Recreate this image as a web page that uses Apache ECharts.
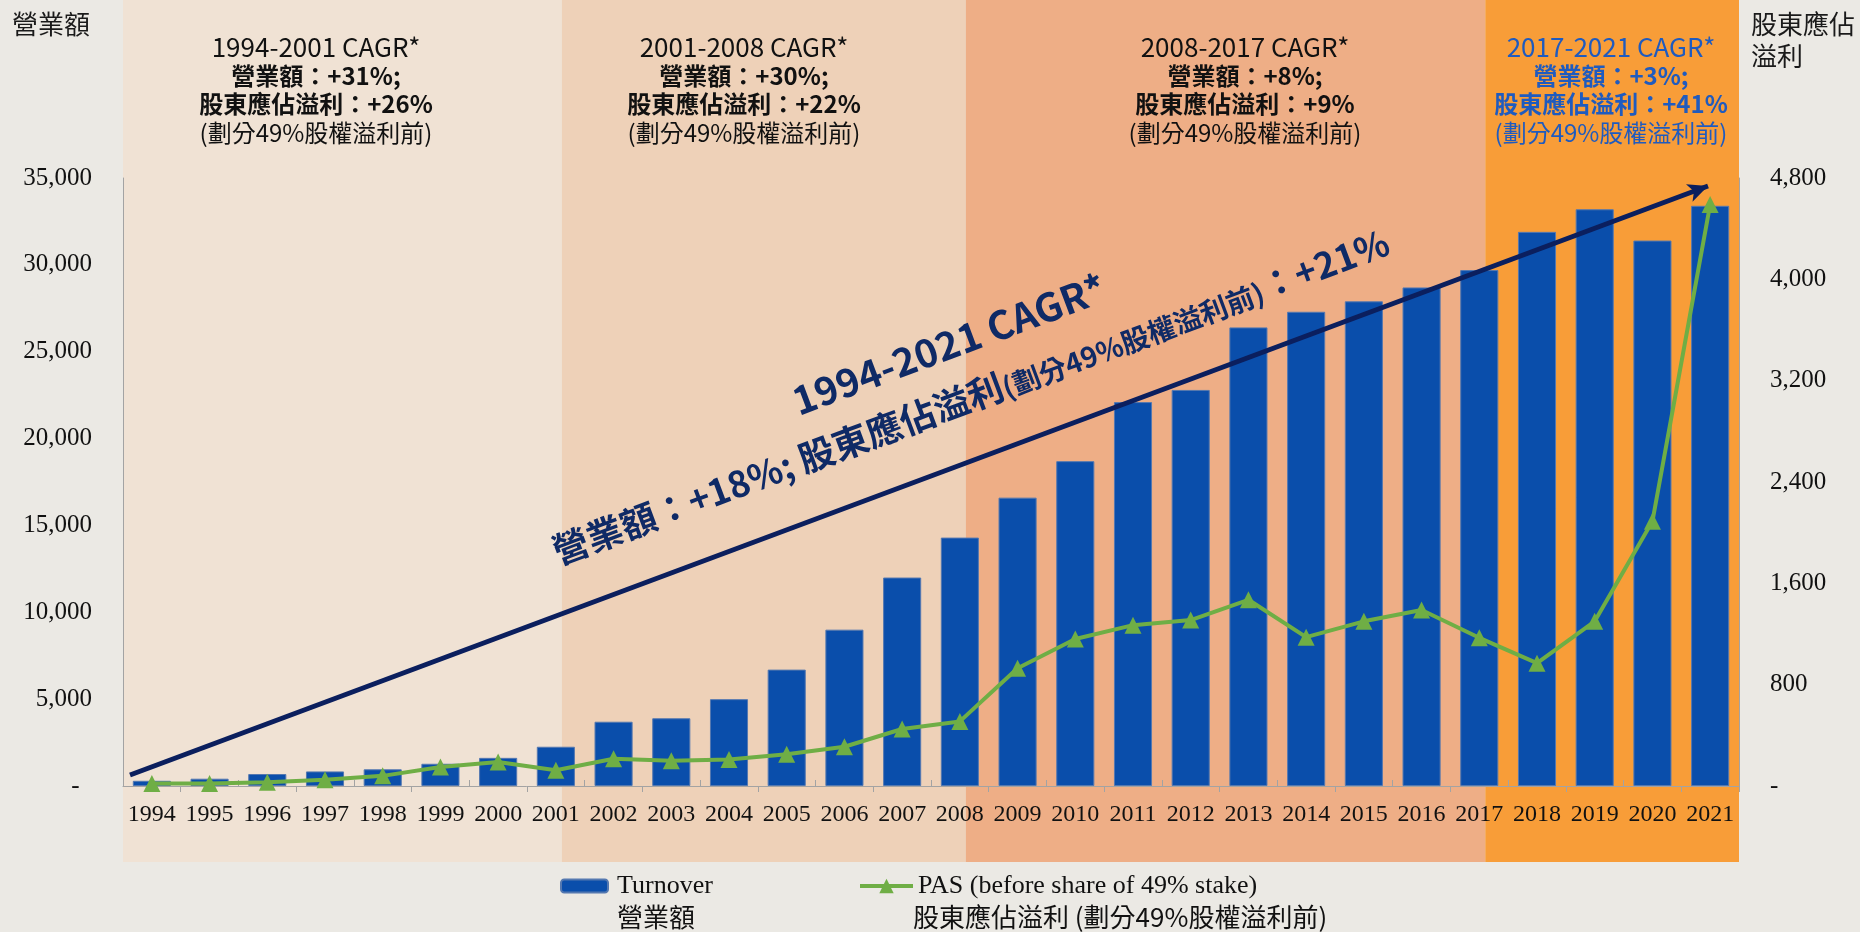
<!DOCTYPE html>
<html>
<head>
<meta charset="utf-8">
<title>營業額及股東應佔溢利</title>
<script src="https://cdn.jsdelivr.net/npm/echarts@6.0.0/dist/echarts.min.js"></script>
<style>
  html, body { margin: 0; padding: 0; background: #ebe9e4; }
  #main { width: 1860px; height: 932px; }
</style>
</head>
<body>
<div id="main"></div>
<script>
// 年份 / 營業額 / 股東應佔溢利
const years = ['1994', '1995', '1996', '1997', '1998', '1999', '2000', '2001', '2002', '2003',
  '2004', '2005', '2006', '2007', '2008', '2009', '2010', '2011', '2012', '2013',
  '2014', '2015', '2016', '2017', '2018', '2019', '2020', '2021'];
const turnover = [300, 420, 690, 840, 960, 1280, 1620, 2260, 3700, 3900,
  5000, 6700, 9000, 12000, 14300, 16600, 18700, 22100, 22800, 26400,
  27300, 27900, 28700, 29700, 31900, 33200, 31400, 33400];
const pas = [20, 20, 30, 50, 80, 150, 190, 125, 215, 200,
  210, 250, 310, 450, 510, 930, 1160, 1270, 1310, 1470,
  1175, 1300, 1390, 1170, 970, 1300, 2090, 4590];

const leftMax = 35000, leftStep = 5000;
const rightMax = 4800, rightStep = 800;

// CAGR 區段
const periods = [['1994', '2001'], ['2001', '2008'], ['2008', '2017'], ['2017', '2021']];
const cagrTurnover = ['+31%', '+30%', '+8%', '+3%'];
const cagrPas = ['+26%', '+22%', '+9%', '+41%'];
const bandColors = ['#f0e2d4', '#eed1b8', '#eeae86', '#f89d38'];
const bandTextX = [316, 744, 1245, 1611];
const bandTextColor = ['#111', '#111', '#111', '#1f5bbf'];

const W = 1860, H = 932;
const GRID = { left: 123, right: 121, top: 178, bottom: 146 };

const serif = '"Liberation Serif", "Times New Roman", serif';
const cjk = '"Noto Sans CJK TC", "Noto Sans", sans-serif';

const fmt = v => v === 0 ? '-' : v.toLocaleString('en-US');

let myChart = echarts.init(document.getElementById('main'));

myChart.setOption({
  animation: false,
  backgroundColor: '#ebe9e4',
  grid: { left: GRID.left, right: GRID.right, top: GRID.top, bottom: GRID.bottom },
  legend: [
    {
      data: ['Turnover'], left: 560, top: 871, padding: 0,
      itemWidth: 47, itemHeight: 13,
      textStyle: { fontFamily: serif, fontSize: 26, color: '#111', lineHeight: 30, padding: [0, 0, 0, 4] }
    },
    {
      data: ['PAS (before share of 49% stake)'], left: 858, top: 871, padding: 0,
      itemWidth: 53, itemHeight: 18,
      lineStyle: { width: 4 },
      textStyle: { fontFamily: serif, fontSize: 26, color: '#111', lineHeight: 30 }
    }
  ],
  xAxis: [
    {
      type: 'category', data: years, position: 'bottom',
      axisLine: { lineStyle: { color: '#a3a3a3', width: 1 } },
      axisTick: { show: true, length: 6, interval: i => i % 2 === 1, lineStyle: { color: '#a3a3a3' } },
      axisLabel: { interval: 0, margin: 17, fontFamily: serif, fontSize: 24, color: '#111' }
    },
    {
      type: 'category', data: years, position: 'bottom',
      axisLine: { show: false },
      axisTick: { show: true, inside: true, length: 6, interval: i => i % 2 === 0 && i > 0, lineStyle: { color: '#a3a3a3' } },
      axisLabel: { show: false }
    }
  ],
  yAxis: [
    {
      type: 'value', min: 0, max: leftMax, interval: leftStep,
      axisLine: { show: true, lineStyle: { color: '#a3a3a3' } },
      axisTick: { show: false },
      splitLine: { show: false },
      axisLabel: {
        margin: 31, fontFamily: serif, fontSize: 25, color: '#111',
        formatter: v => v === 0 ? '-  ' : fmt(v)
      }
    },
    {
      type: 'value', min: 0, max: rightMax, interval: rightStep, position: 'right',
      axisLine: { show: true, lineStyle: { color: '#a3a3a3' } },
      axisTick: { show: false },
      splitLine: { show: false },
      axisLabel: { margin: 31, fontFamily: serif, fontSize: 25, color: '#111', formatter: fmt }
    }
  ],
  series: [
    {
      name: 'Turnover',
      type: 'bar',
      data: turnover,
      barCategoryGap: '34%',
      itemStyle: { color: '#0a4eab', borderColor: '#5478b0', borderWidth: 1 },
      markLine: {
        silent: true,
        symbol: ['none', 'arrow'],
        symbolSize: [14, 20],
        label: { show: false },
        lineStyle: { color: '#0b1f5e', width: 5, type: 'solid' },
        emphasis: { disabled: true },
        data: [[{ x: 130, y: 775 }, { x: 1708, y: 186 }]]
      }
    },
    {
      name: 'PAS (before share of 49% stake)',
      type: 'line',
      yAxisIndex: 1,
      data: pas,
      symbol: 'triangle',
      symbolSize: 17,
      lineStyle: { color: '#6fae45', width: 4 },
      itemStyle: { color: '#6fae45' },
      z: 5
    }
  ]
});

// 背景區段及文字
const cx = y => myChart.convertToPixel({ xAxisIndex: 0 }, y) + 6;
const elements = [];
periods.forEach((p, i) => {
  const x0 = i === 0 ? GRID.left : cx(p[0]);
  const x1 = i === periods.length - 1 ? W - GRID.right : cx(p[1]);
  elements.push({
    type: 'rect', z: -10, silent: true,
    shape: { x: x0, y: 0, width: x1 - x0, height: 862 },
    style: { fill: bandColors[i] }
  });
  const c = bandTextColor[i];
  elements.push({
    type: 'text', x: bandTextX[i], y: 33, silent: true,
    style: {
      text: '{h|' + p[0] + '-' + p[1] + ' CAGR*}\n{b|營業額：' + cagrTurnover[i] + ';}\n{b|股東應佔溢利：' + cagrPas[i] + '}\n{n|(劃分49%股權溢利前)}',
      align: 'center', verticalAlign: 'top',
      rich: {
        h: { fontFamily: cjk, fontSize: 26, lineHeight: 28.5, fill: c },
        n: { fontFamily: cjk, fontSize: 24, lineHeight: 28.5, fill: c },
        b: { fontFamily: cjk, fontSize: 24, fontWeight: 'bold', lineHeight: 28.5, fill: c }
      }
    }
  });
});

// 軸標題
elements.push({
  type: 'text', x: 12, y: 9, silent: true,
  style: { text: '營業額', fontFamily: cjk, fontSize: 26, lineHeight: 30, fill: '#1a1a1a' }
});
elements.push({
  type: 'text', x: 1751, y: 8, silent: true,
  style: { text: '股東應佔\n溢利', fontFamily: cjk, fontSize: 26, lineHeight: 32, fill: '#1a1a1a' }
});

// 1994-2021 斜字
const rot = 20.5 * Math.PI / 180;
elements.push({
  type: 'text', x: 949, y: 344, rotation: rot, silent: true, z: 20,
  style: {
    text: '1994-2021 CAGR*', align: 'center', verticalAlign: 'middle',
    fontFamily: cjk, fontSize: 39, fontWeight: 'bold', fill: '#0f2a66'
  }
});
elements.push({
  type: 'text', x: 969, y: 392, rotation: rot, silent: true, z: 20,
  style: {
    text: '{a|營業額：+18%; 股東應佔溢利}{s|(劃分49%股權溢利前)}{a|：+21%}',
    align: 'center', verticalAlign: 'middle',
    rich: {
      a: { fontFamily: cjk, fontSize: 36, fontWeight: 'bold', fill: '#0f2a66', lineHeight: 46, verticalAlign: 'bottom' },
      s: { fontFamily: cjk, fontSize: 28, fontWeight: 'bold', fill: '#0f2a66', lineHeight: 42, verticalAlign: 'bottom' }
    }
  }
});

// 圖例第二行
elements.push({
  type: 'text', x: 617, y: 902, silent: true,
  style: { text: '營業額', fontFamily: cjk, fontSize: 26, lineHeight: 30, fill: '#111' }
});
elements.push({
  type: 'text', x: 913, y: 902, silent: true,
  style: { text: '股東應佔溢利 (劃分49%股權溢利前)', fontFamily: cjk, fontSize: 26, lineHeight: 30, fill: '#111' }
});

myChart.setOption({ graphic: { elements: elements } });
</script>
</body>
</html>
